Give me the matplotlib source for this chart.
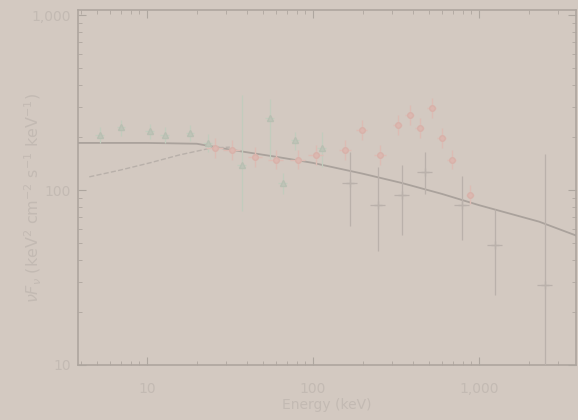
import numpy as np
import matplotlib
matplotlib.use("Agg")
import matplotlib.pyplot as plt
from matplotlib.ticker import FixedLocator, FixedFormatter, NullFormatter

# model curves
model_e = [3.85, 10, 20, 32, 60, 100, 200, 340, 600, 1000, 2300, 3840]
model_f = [186, 186, 184, 170, 155, 143, 124, 110, 95, 82, 66, 55]
low_e = [4.5, 6.9, 10.4, 15.8, 24.5, 31.6]
low_f = [119, 130, 143, 159, 174, 176]

# instrument 1 (triangles)
tri_e = [5.2, 7.0, 10.4, 12.8, 18.2, 23.3, 37.3, 55, 66, 78, 113]
tri_f = [206, 229, 217, 206, 212, 186, 139, 258, 110, 193, 174]
tri_lo = [185, 205, 195, 185, 190, 165, 76, 150, 95, 170, 135]
tri_hi = [228, 252, 240, 228, 235, 208, 350, 330, 125, 215, 215]

# instrument 2 (circles)
red_e = [25.7, 32.5, 45, 60, 81, 104, 156, 197, 254, 325, 383, 440, 520, 596, 686, 885]
red_f = [174, 169, 154, 149, 149, 159, 169, 220, 159, 236, 268, 227, 295, 198, 149, 94]
red_w = [0.12, 0.12, 0.1, 0.1, 0.1, 0.1, 0.08, 0.08, 0.08, 0.06, 0.06, 0.06, 0.06, 0.06, 0.06, 0.06]

# instrument 3 (crosses, high energy)
hi_e = [167, 246, 344, 473, 791, 1250, 2500]
hi_f = [110, 82, 94, 127, 82, 48.6, 28.6]
hi_lo = [62, 45, 55, 95, 52, 25, 10]
hi_hi = [165, 135, 140, 165, 120, 78, 160]

bg = "#d3c9c1"
txt = "#c3bab3"
edge = "#aea69f"

fig = plt.figure(figsize=(5.78, 4.20), dpi=100, facecolor=bg)
ax = fig.add_axes([78/578, 55/420, 498/578, 355/420], facecolor=bg)
ax.set_xscale("log")
ax.set_yscale("log")
ax.set_xlim(3.85, 3840)
ax.set_ylim(10, 1070)

ax.plot(model_e, model_f, color="#aaa29c", lw=1.3, zorder=3)
ax.plot(low_e, low_f, color="#b8b0aa", lw=1.0, ls="--", zorder=3)

te = np.array(tri_e)
tf = np.array(tri_f)
ax.errorbar(te, tf, yerr=[tf - np.array(tri_lo), np.array(tri_hi) - tf],
            xerr=[te * 0.06, te * 0.06], fmt="^", ms=5, color="#c2ccbd",
            mfc="#bfc4b8", mec="#b9bfb2", elinewidth=0.9, capsize=0, zorder=4)

re_ = np.array(red_e)
rf = np.array(red_f)
rw = np.array(red_w)
ax.errorbar(re_, rf, yerr=[rf * 0.12, rf * 0.14],
            xerr=[re_ * rw, re_ * rw], fmt="o", ms=4, color="#dcbcb4",
            mfc="#dcb8b0", mec="#d8b2aa", elinewidth=1.0, capsize=0, zorder=5)

he = np.array(hi_e)
hf = np.array(hi_f)
ax.errorbar(he, hf, yerr=[hf - np.array(hi_lo), np.array(hi_hi) - hf],
            xerr=[he * 0.1, he * 0.1], fmt="+", ms=6, color="#bab1ab",
            elinewidth=0.9, capsize=0, zorder=4)

for s in ax.spines.values():
    s.set_color(edge)
    s.set_linewidth(1.2)

ax.xaxis.set_major_locator(FixedLocator([10, 100, 1000]))
ax.xaxis.set_major_formatter(FixedFormatter(["10", "100", "1,000"]))
ax.xaxis.set_minor_formatter(NullFormatter())
ax.yaxis.set_major_locator(FixedLocator([10, 100, 1000]))
ax.yaxis.set_major_formatter(FixedFormatter(["10", "100", "1,000"]))
ax.yaxis.set_minor_formatter(NullFormatter())
ax.tick_params(which="both", direction="in", top=True, right=True, color=edge,
               labelcolor=txt, labelsize=10)
ax.tick_params(which="major", length=6)
ax.tick_params(which="minor", length=3)
ax.tick_params(axis="x", pad=12)
ax.tick_params(axis="y", pad=5)

ax.set_xlabel("Energy (keV)", color=txt, fontsize=10, labelpad=2)
ax.set_ylabel(r"$\nu F_\nu$ (keV$^2$ cm$^{-2}$ s$^{-1}$ keV$^{-1}$)", color=txt,
              fontsize=11.5)
ax.yaxis.set_label_coords(-0.068, 0.47)

fig.savefig("out.png", dpi=100, facecolor=bg)
